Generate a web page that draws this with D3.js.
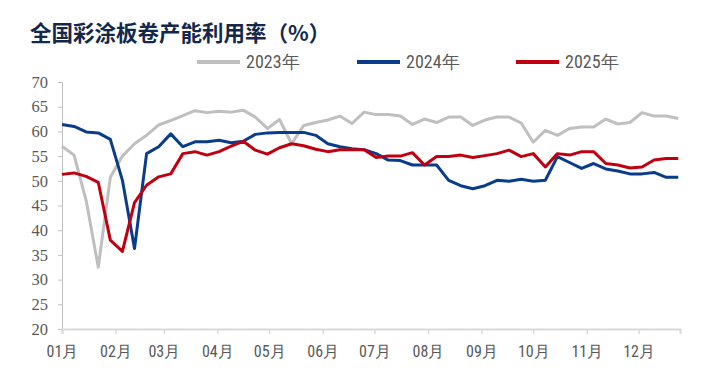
<!DOCTYPE html>
<html>
<head>
<meta charset="utf-8">
<script src="https://cdn.jsdelivr.net/npm/d3@7"></script>
<style>
  body { margin: 0; background: #fff; }
</style>
</head>
<body>
<div id="chart"></div>
<script>
// weekly capacity utilisation (%), 52 weeks per year
const seriesNames = ["2023年", "2024年", "2025年"];
const yTicks = [20, 25, 30, 35, 40, 45, 50, 55, 60, 65, 70];

const v2023 = [57.0, 55.2, 46.0, 32.5, 50.7, 55.0, 57.5, 59.2, 61.3, 62.2,
  63.2, 64.2, 63.8, 64.1, 63.9, 64.3, 62.9, 60.6, 62.4, 57.5,
  61.2, 61.8, 62.3, 63.1, 61.6, 63.9, 63.4, 63.4, 63.1, 61.4,
  62.5, 61.8, 62.9, 62.9, 61.2, 62.3, 62.9, 62.9, 61.7, 57.8,
  60.2, 59.2, 60.6, 60.9, 60.9, 62.5, 61.5, 61.8, 63.8, 63.1,
  63.1, 62.6];
const v2024 = [61.4, 61.0, 59.9, 59.7, 58.4, 50.1, 36.3, 55.5, 56.9, 59.5,
  56.9, 57.9, 57.9, 58.2, 57.7, 58.0, 59.4, 59.7, 59.8, 59.8,
  59.8, 59.2, 57.5, 56.9, 56.5, 56.3, 55.5, 54.2, 54.1, 53.2,
  53.2, 53.2, 50.1, 49.0, 48.4, 49.0, 50.1, 49.9, 50.3, 49.9,
  50.1, 54.9, 53.7, 52.5, 53.5, 52.4, 52.0, 51.4, 51.4, 51.7,
  50.7, 50.7];
const v2025 = [51.3, 51.6, 50.9, 49.7, 38.0, 35.7, 45.6, 49.1, 50.8, 51.4,
  55.5, 55.9, 55.2, 55.9, 57.0, 58.0, 56.2, 55.4, 56.7, 57.5,
  57.1, 56.4, 55.9, 56.3, 56.3, 56.3, 54.7, 55.0, 55.0, 55.7,
  53.2, 54.9, 54.9, 55.2, 54.7, 55.1, 55.5, 56.2, 54.9, 55.5,
  52.8, 55.5, 55.2, 55.9, 55.9, 53.5, 53.2, 52.6, 52.8, 54.2,
  54.5, 54.5];

const W = 722, H = 388;
const margin = { top: 82, right: 42, bottom: 59, left: 62 },
      width = W - margin.left - margin.right,
      height = H - margin.top - margin.bottom;

const root = d3.select("#chart")
  .append("svg")
  .attr("width", W)
  .attr("height", H);

// title
root.append("text")
  .attr("x", 30)
  .attr("y", 41)
  .style("font-family", "'Noto Sans CJK SC', sans-serif")
  .style("font-weight", "bold")
  .style("font-size", "21.5px")
  .style("fill", "#14284b")
  .text("全国彩涂板卷产能利用率（%）");

const svg = root.append("g")
  .attr("transform", `translate(${margin.left},${margin.top})`);

// common x: one reference (non-leap) year, points one week apart
const weekDate = i => new Date(2023, 0, 1 + 7 * i);
const x = d3.scaleTime()
  .domain([new Date(2023, 0, 1), new Date(2023, 11, 25)])
  .range([0, width]);

const y = d3.scaleLinear()
  .domain([20, 70])
  .range([height, 0]);

const color = d3.scaleOrdinal()
  .domain(seriesNames)
  .range(["#bfbfbf", "#0a3c8c", "#c00010"]);

// y axis
const yAxis = svg.append("g")
  .call(d3.axisLeft(y).tickValues(yTicks).tickSize(4).tickPadding(10));
yAxis.select(".domain").attr("stroke", "#bfbfbf");
yAxis.selectAll(".tick line").attr("stroke", "#bfbfbf");
yAxis.selectAll("text")
  .style("font-family", "'Liberation Serif', 'Times New Roman', serif")
  .style("font-size", "16.5px")
  .style("fill", "#595959");

// x axis
const xAxis = svg.append("g")
  .attr("transform", `translate(0,${height})`)
  .call(d3.axisBottom(x)
    .ticks(d3.timeMonth.every(1))
    .tickFormat(d3.timeFormat("%m月"))
    .tickSizeOuter(0)
    .tickSize(5)
    .tickPadding(12));
xAxis.select(".domain").attr("stroke", "#d9d9d9").attr("stroke-width", 2);
xAxis.selectAll(".tick line").attr("stroke", "#d9d9d9").attr("stroke-width", 1.5);
xAxis.selectAll("text")
  .style("font-family", "'Liberation Sans Narrow', 'Roboto Condensed', 'Liberation Sans', sans-serif")
  .style("font-size", "16px")
  .style("fill", "#595959");

const line = d3.line()
  .x((d, i) => x(weekDate(i)))
  .y(d => y(d));

const series = [
  { name: "2023年", values: v2023 },
  { name: "2024年", values: v2024 },
  { name: "2025年", values: v2025 }
];

svg.selectAll("path.series")
  .data(series)
  .join("path")
  .attr("class", "series")
  .attr("fill", "none")
  .attr("stroke", d => color(d.name))
  .attr("stroke-width", 3)
  .attr("stroke-linejoin", "round")
  .attr("d", d => line(d.values));

// legend
const legendX = [197, 357, 516];
const legend = root.selectAll(".legend")
  .data(seriesNames)
  .join("g")
  .attr("class", "legend")
  .attr("transform", (d, i) => `translate(${legendX[i]}, 62)`);

legend.append("line")
  .attr("x1", 0)
  .attr("x2", 43)
  .attr("stroke", d => color(d))
  .attr("stroke-width", 4);

legend.append("text")
  .attr("x", 49)
  .attr("dy", ".35em")
  .style("font-family", "'Liberation Sans Narrow', 'Roboto Condensed', 'Liberation Sans', sans-serif")
  .style("font-size", "18px")
  .style("fill", "#595959")
  .text(d => d);
</script>
</body>
</html>
